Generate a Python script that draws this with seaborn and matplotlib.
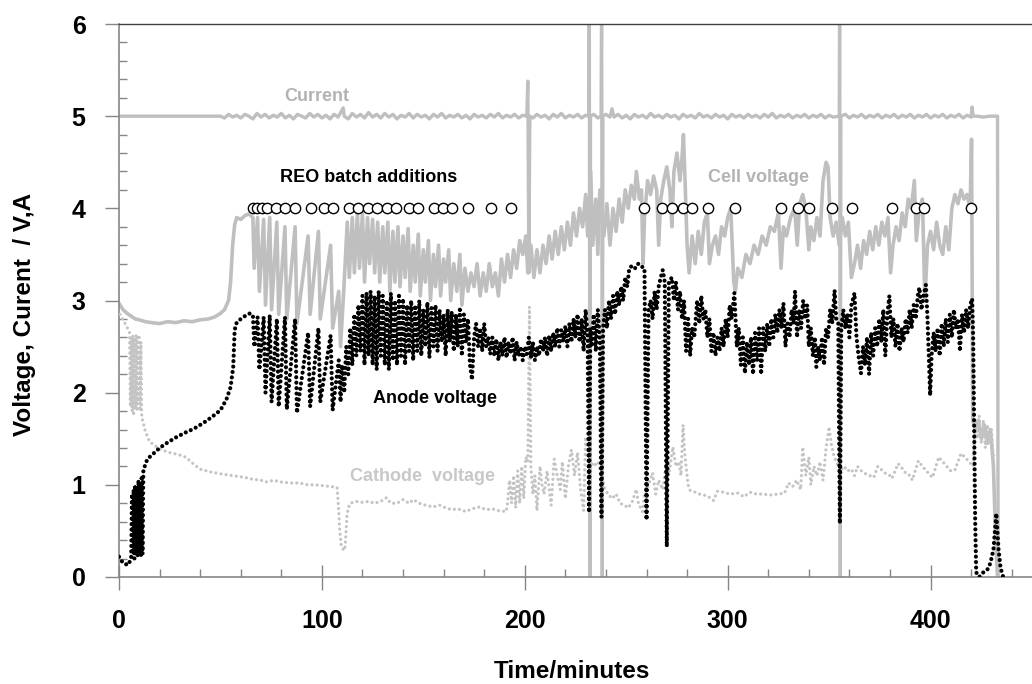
import numpy as np
import pandas as pd
import seaborn as sns
import matplotlib.pyplot as plt
from matplotlib.ticker import MultipleLocator

# (time in minutes, value)
current = [(0, 5.0), (50, 5.0), (52, 4.98), (54, 5.02), (56, 4.99), (58, 5.01), (60, 4.98), (62, 5.02),
           (64, 5.0), (66, 4.97), (68, 5.03), (70, 4.99), (72, 5.02), (74, 4.98), (76, 5.01), (78, 4.99),
           (80, 5.03), (82, 4.98), (84, 5.01), (86, 4.97), (88, 5.02), (90, 5.0), (92, 4.98), (94, 5.03),
           (96, 4.99), (98, 5.02), (100, 4.98), (102, 5.01), (104, 4.97), (106, 5.02), (108, 4.99),
           (110.5, 5.09), (111, 5.0), (113, 4.97), (115, 5.03), (117, 4.99), (119, 5.02), (121, 4.98),
           (123, 5.04), (125, 4.99), (127, 5.02), (129, 4.98), (131, 5.03), (133, 4.99), (135, 5.02),
           (137, 4.97), (139, 5.01), (141, 4.99), (143, 5.03), (145, 4.98), (147, 5.02), (149, 4.99),
           (151, 5.01), (153, 4.97), (155, 5.02), (157, 4.99), (159, 5.03), (161, 4.98), (163, 5.01),
           (165, 4.99), (167, 5.02), (169, 4.98), (171, 5.01), (173, 4.97), (175, 5.02), (177, 4.99),
           (179, 5.01), (181, 4.98), (183, 5.02), (185, 4.99), (187, 5.03), (189, 4.98), (191, 5.01),
           (193, 4.99), (195, 5.02), (197, 4.98), (199, 5.01), (201, 5.0), (201.5, 5.38), (202, 3.3),
           (202.5, 5.0), (204, 4.98), (206, 5.02), (208, 4.99), (210, 5.01), (212, 4.97), (214, 5.02),
           (216, 4.99), (218, 5.03), (220, 4.98), (222, 5.01), (224, 4.99), (226, 5.02), (228, 4.98),
           (230, 5.01), (231.5, 5.0), (231.8, 6.5), (232.1, 0.0), (232.4, 5.0), (234, 5.02), (236, 4.98),
           (237.6, 5.0), (237.9, 6.5), (238.2, 0.0), (238.5, 5.0), (240, 5.02), (242, 4.99), (243, 5.08),
           (244, 4.99), (246, 5.02), (248, 4.98), (250, 5.01), (252, 4.97), (254, 5.02), (256, 4.99),
           (258, 5.01), (260, 4.98), (262, 5.03), (264, 4.99), (266, 5.01), (268, 4.98), (270, 5.02),
           (272, 4.99), (274, 5.01), (276, 4.97), (278, 5.02), (280, 4.99), (282, 5.01), (284, 4.98),
           (286, 5.03), (288, 4.99), (290, 5.01), (292, 4.98), (294, 5.02), (296, 4.99), (298, 5.01),
           (300, 4.97), (302, 5.02), (304, 4.99), (306, 5.01), (308, 4.98), (310, 5.02), (312, 4.99),
           (314, 5.01), (316, 4.98), (318, 5.02), (320, 4.99), (322, 5.03), (324, 4.98), (326, 5.01),
           (328, 4.99), (330, 5.02), (332, 4.98), (334, 5.01), (336, 4.99), (338, 5.02), (340, 4.98),
           (342, 5.01), (344, 4.99), (346, 5.02), (348, 4.98), (350, 5.01), (352, 4.99), (355, 5.0),
           (355.2, 6.5), (355.5, 0.0), (355.8, 5.0), (358, 5.02), (360, 4.98), (362, 5.01), (364, 4.99),
           (366, 5.02), (368, 4.98), (370, 5.01), (372, 4.99), (374, 5.02), (376, 4.98), (378, 5.01),
           (380, 4.99), (382, 5.02), (384, 4.98), (386, 5.01), (388, 4.99), (390, 5.02), (392, 4.98),
           (394, 5.01), (396, 4.99), (398, 5.02), (400, 4.98), (402, 5.01), (404, 4.99), (406, 5.02),
           (408, 4.98), (410, 5.01), (412, 4.99), (414, 5.02), (416, 4.98), (418, 5.01), (420, 4.99),
           (420.5, 5.1), (421, 5.0), (423, 5.0), (426, 4.99), (429, 5.0), (433, 5.0), (433.3, 0.0)]

cell_voltage = [(0, 2.97), (2, 2.9), (4, 2.86), (6, 2.83), (8, 2.8), (10, 2.79), (13, 2.77), (16, 2.76),
                (20, 2.75), (24, 2.77), (28, 2.76), (32, 2.78), (36, 2.77), (40, 2.79), (44, 2.8),
                (47, 2.82), (50, 2.86), (52, 2.9), (54, 3.0), (55, 3.2), (56, 3.6), (57, 3.82), (58, 3.9),
                (60, 3.88), (62, 3.92), (64, 3.94), (66, 3.9), (66.6, 3.35), (68.3, 3.9), (69.2, 3.1),
                (71.3, 3.88), (72.2, 2.95), (74.3, 3.9), (75.2, 2.9), (77.8, 3.85), (78.7, 2.85),
                (81.8, 3.8), (82.7, 2.8), (86.8, 3.8), (87.7, 2.75), (93.2, 3.7), (94.2, 2.85),
                (98.3, 3.75), (99.2, 2.8), (104.3, 3.6), (105.3, 2.7), (108.3, 3.1), (109.2, 2.5),
                (111, 3.2), (112.5, 3.85), (113.5, 3.25), (115, 3.9),
                (116, 3.3), (117.5, 3.95), (118.5, 3.35), (120, 3.95), (121, 3.2), (122.5, 3.9),
                (123.5, 3.4), (125, 3.88), (126, 3.3), (127.5, 3.85), (128.5, 3.2), (130, 3.8), (131, 3.3),
                (132.5, 3.85), (133.5, 3.1), (135, 3.75), (136, 3.2), (137.5, 3.8), (138.5, 3.15),
                (140, 3.7), (141, 3.25), (142.5, 3.78), (143.5, 3.1), (145, 3.6), (146, 3.2), (147.5, 3.72),
                (148.5, 3.05), (150, 3.55), (151, 3.2), (152.5, 3.65), (153.5, 3.0), (155, 3.5),
                (156, 3.15), (157.5, 3.6), (158.5, 3.05), (160, 3.45), (161, 3.2), (162.5, 3.55),
                (163.5, 3.0), (165, 3.4), (166.5, 3.1), (168, 3.5), (169, 2.95), (170.5, 3.35), (172, 3.1),
                (173.5, 3.3), (175, 3.15), (176.5, 3.4), (178, 3.05), (179.5, 3.3), (181, 3.1), (182.5, 3.4),
                (184, 3.15), (185.5, 3.3), (187, 3.05), (188.5, 3.45), (190, 3.2), (191.5, 3.5),
                (193, 3.25), (194.5, 3.55), (196, 3.35), (197.5, 3.65), (199, 3.5), (200.5, 3.7),
                (201.5, 3.3), (203, 3.6), (204.5, 3.25), (206, 3.55), (207.5, 3.3), (209, 3.6),
                (210.5, 3.4), (212, 3.7), (213.5, 3.45), (215, 3.75), (216.5, 3.5), (218, 3.8),
                (219.5, 3.55), (221, 3.85), (222.5, 3.6), (224, 3.95), (225.5, 3.7), (227, 4.0),
                (228.5, 3.8), (230, 4.15), (231, 3.7), (232.5, 4.4), (233.5, 3.6), (235, 4.1), (236, 3.5),
                (237, 4.2), (239, 3.7), (240.5, 4.05), (242, 3.6), (243.5, 4.0), (245, 3.75), (246.5, 4.1),
                (248, 3.85), (249.5, 4.2), (251, 4.0), (252.5, 4.25), (254, 4.1), (255, 4.4), (256.5, 4.1),
                (257.5, 4.2), (258.3, 3.4), (259, 3.9), (260.5, 4.3), (262, 4.15), (263.5, 4.35),
                (265, 4.2), (266, 3.6), (267, 4.1), (268.5, 4.3), (270, 4.45), (271.5, 4.2), (272.5, 3.8),
                (273.5, 4.4), (275, 4.6), (276.5, 4.3), (277.5, 4.55), (278.2, 4.8), (279, 4.3), (280, 3.6),
                (281, 3.3), (282.5, 3.7), (284, 3.4), (285.5, 3.75), (287, 3.5), (288.5, 3.85), (290, 3.95),
                (291, 3.4), (292.5, 3.6), (294, 3.7), (295.5, 3.5), (297, 3.8), (298.5, 3.7), (300, 3.9),
                (301.5, 4.0), (303, 3.2), (303.8, 3.1), (305, 3.35), (307, 3.25), (309, 3.5), (311, 3.4),
                (313, 3.6), (315, 3.5), (317, 3.7), (319, 3.6), (321, 3.8), (323, 3.75), (325, 3.95),
                (326.3, 3.35), (327.5, 3.8), (329, 3.7), (331, 3.9), (333, 4.0), (334.3, 3.6),
                (335.5, 4.05), (337, 4.15), (338.5, 4.0), (340, 3.55), (341, 3.8), (342.5, 3.65),
                (344, 3.9), (345.5, 3.7), (347, 4.3), (348.5, 4.5), (349.5, 4.45), (350.5, 3.9), (352, 3.7),
                (353.5, 3.85), (355, 3.6), (356.5, 3.9), (358, 3.7), (359.5, 3.85), (361, 3.25),
                (362.5, 3.4), (364, 3.6), (365.5, 3.35), (367, 3.65), (368.5, 3.5), (370, 3.75),
                (371.5, 3.55), (373, 3.8), (374.5, 3.6), (376, 3.85), (377.5, 3.7), (379, 3.9),
                (380.3, 3.3), (381.5, 3.6), (383, 3.8), (384.5, 3.65), (386, 3.95), (387.5, 3.8),
                (389, 4.1), (390.5, 4.0), (392, 4.3), (393, 3.65), (394.5, 4.0), (396, 4.1), (397.2, 3.0),
                (398.5, 3.6), (400, 3.75), (401.5, 3.55), (403, 3.85), (404.5, 3.6), (406, 3.5),
                (407.5, 3.8), (409, 3.55), (410.5, 4.0), (412, 4.15), (413.5, 4.05), (415, 4.2),
                (416.5, 4.1), (418, 4.15), (419.5, 4.0), (420.2, 4.75), (420.8, 1.7), (422, 1.6),
                (423.5, 1.7), (425, 1.5), (426.5, 1.65), (428, 1.45), (429.5, 1.6), (431, 1.2), (432, 0.45),
                (433, 0.0)]

anode_voltage = [(0, 0.22), (2, 0.15), (4.5, 0.13), (6, 0.2), (6.4, 0.9), (6.8, 0.25), (7.2, 0.95),
                 (7.6, 0.2), (8, 1.0), (8.4, 0.25), (8.8, 0.95), (9.2, 0.22), (9.6, 1.05), (10, 0.25),
                 (10.4, 1.0), (10.8, 0.22), (11.2, 1.1), (11.6, 0.25), (12, 1.16), (14, 1.28), (17, 1.34),
                 (20, 1.4), (24, 1.46), (28.5, 1.52), (33, 1.57), (37, 1.61), (41.5, 1.67), (46, 1.74),
                 (50, 1.81), (53, 1.93), (55, 2.06), (56.3, 2.28), (57, 2.68), (58, 2.76), (59.5, 2.79),
                 (62, 2.83), (64.5, 2.86), (66, 2.84), (66.7, 2.5), (68.3, 2.82), (69.2, 2.25),
                 (71.3, 2.82), (72.2, 2.0), (74.3, 2.84), (75.2, 1.9), (77.8, 2.8), (78.7, 1.85),
                 (81.8, 2.82), (82.7, 1.82), (86.8, 2.8), (87.7, 1.78), (93.2, 2.65), (94.2, 1.85),
                 (98.3, 2.7), (99.2, 1.9), (104.3, 2.62), (105.3, 1.81), (108.3, 2.35), (109.2, 1.9),
                 (110, 2.3), (111, 2.0), (112, 2.5),
                 (113, 2.2), (114, 2.7), (115, 2.3), (116, 2.85), (117, 2.4), (118, 2.95), (119, 2.45),
                 (120, 3.05), (121, 2.3), (122, 3.08), (123, 2.4), (124, 3.1), (125, 2.3), (126, 3.05),
                 (127, 2.25), (128, 3.1), (129, 2.4), (130, 3.05), (131, 2.3), (132, 3.0), (133, 2.25),
                 (134, 3.08), (135, 2.35), (136, 3.0), (137, 2.3), (138, 3.05), (139, 2.4), (140, 3.02),
                 (141, 2.3), (142, 2.95), (143, 2.45), (144, 3.0), (145, 2.35), (146, 2.95), (147, 2.45),
                 (148, 3.0), (149, 2.4), (150, 2.9), (151, 2.5), (152, 2.98), (153, 2.38), (154, 2.92),
                 (155, 2.5), (156, 2.95), (157, 2.45), (158, 2.9), (159, 2.55), (160, 2.85), (161, 2.4),
                 (162, 2.9), (163, 2.55), (164, 2.88), (165, 2.45), (166, 2.85), (167, 2.5), (168, 2.9),
                 (169, 2.4), (170, 2.85), (171, 2.55), (172, 2.8), (173, 2.3), (174, 2.14), (175, 2.6),
                 (176, 2.75), (177, 2.5), (178, 2.7), (179, 2.45), (180, 2.75), (181, 2.5), (182, 2.6),
                 (183, 2.42), (184, 2.6), (185, 2.4), (186, 2.58), (187, 2.35), (188, 2.55), (189, 2.4),
                 (190, 2.6), (191, 2.38), (192, 2.55), (193, 2.42), (194, 2.6), (195, 2.35), (196, 2.55),
                 (197, 2.4), (198, 2.5), (199, 2.35), (200, 2.5), (201, 2.42), (202, 2.6), (203, 2.38),
                 (204, 2.55), (205, 2.35), (206, 2.5), (207, 2.4), (208, 2.58), (209, 2.45), (210, 2.6),
                 (211, 2.4), (212, 2.62), (213, 2.45), (214, 2.65), (215, 2.5), (216, 2.7), (217, 2.5),
                 (218, 2.68), (219, 2.55), (220, 2.72), (221, 2.5), (222, 2.75), (223, 2.55), (224, 2.8),
                 (225, 2.6), (226, 2.85), (227, 2.55), (228, 2.8), (229, 2.45), (230, 2.9), (231, 2.6),
                 (231.7, 0.7), (232.3, 2.7), (233, 2.5), (234, 2.85), (235, 2.45), (236, 2.9), (237, 2.55),
                 (237.8, 0.65), (238.6, 2.7), (239.5, 2.9), (240.5, 2.7), (241.5, 3.0), (242.5, 2.8),
                 (243.5, 3.05), (244.5, 2.85), (245.5, 3.1), (246.5, 2.95), (247.5, 3.15), (248.5, 3.0),
                 (249.5, 3.25), (250.5, 3.15), (251.5, 3.35), (253, 3.38), (254.5, 3.35), (256, 3.4),
                 (257.5, 3.37), (259, 3.35), (260, 0.62), (261, 2.9), (262, 3.0), (263, 2.8), (264, 3.1),
                 (265, 2.9), (266, 3.15), (267, 3.25), (268, 3.33), (269, 3.2), (270, 0.33), (271, 3.2),
                 (272.5, 3.25), (273.5, 3.0), (274.5, 3.2), (275.5, 2.9), (276.5, 3.1), (277.5, 2.8),
                 (278.5, 3.0), (279.5, 2.45), (280.5, 2.8), (281.5, 2.4), (282.5, 2.7), (283.5, 2.6),
                 (285, 3.0), (286, 2.75), (287, 3.05), (288, 2.8), (289, 2.9), (290, 2.6), (291, 2.8),
                 (292, 2.45), (293, 2.65), (294, 2.4), (295, 2.6), (296, 2.45), (297, 2.7), (298, 2.5),
                 (299, 2.8), (300, 2.6), (301, 2.95), (302, 2.8), (303.3, 3.08), (304.5, 2.5), (305.5, 2.7),
                 (306.5, 2.3), (307.5, 2.6), (308.5, 2.21), (309.5, 2.55), (310.5, 2.3), (311.5, 2.6),
                 (312.5, 2.2), (313.5, 2.65), (314.5, 2.35), (315.5, 2.7), (316.5, 2.2), (317.5, 2.7),
                 (318.5, 2.45), (319.5, 2.75), (320.5, 2.5), (321.5, 2.8), (322.5, 2.6), (323.5, 2.85),
                 (324.5, 2.65), (325.5, 2.9), (326.5, 2.7), (327.5, 2.97), (328.5, 2.5), (329.5, 2.75),
                 (330.5, 2.6), (331.5, 2.9), (332.5, 2.75), (333.2, 3.1), (334.2, 2.6), (335.2, 2.9),
                 (336.2, 2.7), (337.2, 3.0), (338.2, 2.8), (339.2, 2.95), (340, 2.5), (341, 2.7),
                 (342, 2.4), (343, 2.6), (343.7, 2.28), (344.5, 2.5), (345.5, 2.35), (346.5, 2.6),
                 (347.5, 2.3), (348.5, 2.7), (349.5, 2.6), (350.5, 2.9), (351.5, 2.75), (352.7, 3.11),
                 (353.5, 2.8), (354.5, 2.75), (355.3, 0.58), (356, 2.7), (357, 2.9), (358, 2.7),
                 (359, 2.85), (360, 2.6), (361, 2.95), (362.5, 3.08), (363.5, 2.6), (364.5, 2.4),
                 (365.7, 2.21), (366.7, 2.5), (367.7, 2.3), (368.7, 2.6), (369.7, 2.2), (370.7, 2.65),
                 (371.7, 2.4), (372.7, 2.7), (373.7, 2.5), (374.7, 2.8), (375.7, 2.55), (376.7, 2.9),
                 (377.7, 2.4), (378.7, 2.85), (379.7, 3.05), (380.7, 2.6), (381.7, 2.8), (382.7, 2.5),
                 (383.7, 2.75), (384.7, 2.45), (385.7, 2.7), (386.7, 2.55), (387.7, 2.8), (388.7, 2.65),
                 (389.7, 2.9), (390.7, 2.7), (391.7, 2.95), (392.7, 2.8), (393.7, 3.05), (394.5, 3.14),
                 (395.5, 2.9), (396.5, 3.05), (397.7, 3.17), (398.5, 2.8), (399.3, 2.3), (399.8, 1.97),
                 (400.5, 2.4), (401.5, 2.65), (402.5, 2.45), (403.5, 2.7), (404.5, 2.4), (405.5, 2.75),
                 (406.5, 2.5), (407.5, 2.8), (408.5, 2.55), (409.5, 2.85), (410.5, 2.6), (411.5, 2.9),
                 (412.5, 2.7), (413.5, 2.8), (414.5, 2.45), (415.5, 2.85), (416.5, 2.65), (417.5, 2.9),
                 (418.5, 2.7), (419.5, 2.95), (420.5, 3.02), (421, 2.6), (421.5, 1.6), (422, 0.6),
                 (422.5, 0.05), (424, 0.0), (426, 0.05), (428, 0.08), (429.5, 0.15), (431, 0.3),
                 (432.4, 0.69), (433.5, 0.3), (434.5, 0.1), (435.8, 0.0)]

cathode_voltage = [(0.5, 2.85), (2, 2.79), (4, 2.71), (5.2, 2.65), (5.6, 1.85), (6, 2.6), (6.4, 1.8),
                   (6.8, 2.62), (7.2, 1.75), (7.6, 2.6), (8, 1.85), (8.4, 2.62), (8.8, 1.8), (9.2, 2.6),
                   (9.6, 1.9), (10, 2.6), (10.4, 1.8), (10.8, 2.55), (11.2, 1.74), (12, 1.67), (13, 1.58),
                   (15, 1.47), (18, 1.42), (21, 1.38), (25, 1.35), (29, 1.33), (33, 1.3), (37, 1.22),
                   (40, 1.17), (45, 1.14), (50, 1.12), (56, 1.1), (62, 1.08), (66, 1.06), (70, 1.05),
                   (73, 1.03), (76, 1.05), (80, 1.03), (85, 1.02), (89, 1.02), (93, 1.0), (97, 1.0),
                   (101, 0.99), (105, 0.98), (107.5, 0.97), (108.2, 0.75), (108.8, 0.5), (109.5, 0.35),
                   (110.5, 0.3), (111.3, 0.29), (111.8, 0.45), (112.3, 0.65), (113, 0.75), (114, 0.8),
                   (117, 0.82), (120, 0.81), (123, 0.82), (126, 0.8), (129, 0.82), (131.8, 0.86), (134, 0.8),
                   (137, 0.8), (140, 0.84), (143, 0.8), (145, 0.84), (148, 0.8), (151, 0.78), (154.8, 0.76),
                   (158, 0.78), (161, 0.75), (164, 0.73), (167, 0.74), (171, 0.71), (174, 0.74),
                   (177.7, 0.76), (181, 0.73), (184, 0.74), (187, 0.72), (190.8, 0.71), (191.5, 0.8),
                   (192.5, 1.05), (193.5, 0.8), (194.5, 1.1), (195.5, 0.75), (196.5, 1.15), (197.5, 0.8),
                   (198.5, 1.2), (199.5, 0.85), (200.5, 1.3), (201.5, 1.25), (202.3, 2.93), (203, 1.2),
                   (204, 0.9), (205, 1.1), (206, 0.72), (207.5, 1.2), (208.5, 1.0), (209.5, 0.9),
                   (211, 1.15), (213, 0.78), (214.5, 1.28), (216, 1.1), (217.5, 0.95), (218.5, 1.25),
                   (220, 0.85), (221.5, 1.2), (223, 1.38), (224.5, 1.1), (226, 1.35), (227.5, 0.95),
                   (229, 0.72), (230, 1.52), (231, 1.3), (232.5, 1.25), (234, 1.2), (236, 1.25), (238, 1.1),
                   (239.5, 0.95), (241, 0.9), (243, 0.85), (245, 0.9), (247, 0.8), (249, 0.78), (251, 0.75),
                   (253, 0.82), (255, 0.95), (256, 0.8), (258, 0.71), (259, 0.9), (261, 1.0), (263, 1.13),
                   (264.5, 0.9), (266, 1.05), (268, 0.95), (269.5, 1.2), (271, 1.1), (273, 1.41),
                   (274.5, 1.2), (276, 1.25), (277, 1.1), (278, 1.65), (279, 1.3), (280.5, 1.0),
                   (281.5, 0.94), (284, 0.92), (286, 0.9), (288, 0.89), (290, 0.88), (293, 0.83),
                   (295, 0.93), (298, 0.92), (301, 0.9), (305, 0.91), (308, 0.87), (311, 0.92), (314, 0.9),
                   (317, 0.9), (321, 0.89), (325, 0.9), (328, 0.91), (330, 1.02), (332, 0.98), (334, 1.05),
                   (336, 0.95), (337, 1.41), (338.5, 1.1), (340, 1.3), (341, 1.0), (342.5, 1.2), (344, 1.1),
                   (345.5, 1.25), (347, 1.05), (348.5, 1.4), (350, 1.63), (351, 1.45), (352.5, 1.3),
                   (354, 1.23), (355.5, 1.15), (357.5, 1.2), (359, 1.15), (361, 1.17), (362.5, 1.1),
                   (364, 1.2), (366, 1.15), (368, 1.12), (370, 1.1), (372, 1.08), (374, 1.2), (376, 1.16),
                   (378, 1.12), (380, 1.1), (381, 1.07), (384, 1.23), (386, 1.18), (388, 1.12), (390, 1.1),
                   (391, 1.05), (394, 1.26), (396, 1.2), (398, 1.15), (400, 1.1), (401, 1.08), (404, 1.3),
                   (406, 1.25), (408, 1.2), (410, 1.15), (412, 1.16), (415, 1.34), (417, 1.3), (419, 1.25),
                   (421, 1.2), (422, 1.7), (423, 1.5), (424, 1.75), (425, 1.45), (426, 1.7), (427, 1.4),
                   (428, 1.65), (429, 1.45), (430, 1.6), (431, 1.3)]

# times of the REO batch additions (plotted at 4 V)
reo_additions = [65.9, 68.1, 70.4, 72.8, 77.3, 81.9, 86.6, 94.4, 101.0, 105.6, 113.2, 117.7, 122.7,
                 127.2, 131.9, 136.5, 143.0, 147.6, 155.2, 159.7, 164.3, 172.2, 183.4, 193.2, 258.6,
                 267.8, 272.7, 277.8, 282.6, 290.5, 303.6, 326.4, 334.5, 340.2, 351.4, 361.1, 380.8,
                 392.7, 396.7, 419.7]
reo_level = 4.0


def to_frame(pairs):
    return pd.DataFrame(pairs, columns=["time", "value"])


sns.set_style("white")
plt.rcParams['font.family'] = ['Liberation Sans', 'DejaVu Sans']

grey = "#bfbfbf"

fig = plt.figure(figsize=(10.32, 6.84), dpi=100)
ax = fig.add_axes([119 / 1032, 107 / 684, 1 - 119 / 1032, 553 / 684])

sns.lineplot(data=to_frame(current), x="time", y="value", ax=ax, sort=False, estimator=None,
             color=grey, lw=2.4, zorder=2)
sns.lineplot(data=to_frame(cell_voltage), x="time", y="value", ax=ax, sort=False, estimator=None,
             color=grey, lw=2.6, zorder=2)
sns.lineplot(data=to_frame(cathode_voltage), x="time", y="value", ax=ax, sort=False, estimator=None,
             color="#c4c4c4", lw=2.3, linestyle=(0, (0.01, 1.6)), dash_capstyle="round", zorder=3)
sns.lineplot(data=to_frame(anode_voltage), x="time", y="value", ax=ax, sort=False, estimator=None,
             color="black", lw=3.0, linestyle=(0, (0.01, 1.3)), dash_capstyle="round", zorder=4)
sns.scatterplot(x=reo_additions, y=[reo_level] * len(reo_additions), ax=ax, marker="o", s=55,
                facecolor="white", edgecolor="black", linewidth=1.0, zorder=5)

ax.set_xlim(0, 450)
ax.set_ylim(0, 6)
ax.xaxis.set_major_locator(MultipleLocator(100))
ax.xaxis.set_minor_locator(MultipleLocator(20))
ax.yaxis.set_major_locator(MultipleLocator(1))
ax.yaxis.set_minor_locator(MultipleLocator(0.2))
ax.tick_params(axis="x", which="major", direction="inout", length=18, width=1, color="#868686",
               labelsize=18, pad=14, labelcolor="black")
ax.tick_params(axis="y", which="major", direction="out", length=10, width=1, color="#868686",
               labelsize=18, pad=14, labelcolor="black")
ax.tick_params(which="minor", direction="in", length=6, width=1, color="#868686")
ax.tick_params(which="both", bottom=True, left=True)
for lab in ax.get_xticklabels() + ax.get_yticklabels():
    lab.set_fontweight("bold")

for side in ["left", "bottom"]:
    ax.spines[side].set_color("#868686")
    ax.spines[side].set_linewidth(1.2)
ax.spines["top"].set_color("#404040")
ax.spines["top"].set_linewidth(1.0)
ax.spines["right"].set_visible(False)

ax.set_xlabel("Time/minutes", fontsize=17.5, fontweight="bold", va="center", color="black")
ax.xaxis.set_label_coords((572 - 119) / 913, (577 - 671) / 553)
ax.set_ylabel("Voltage, Curent  / V,A", fontsize=17.5, fontweight="bold", va="center", color="black")
ax.yaxis.set_label_coords((25 - 119) / 913, (577 - 314) / 553)

ax.text(97.5, 5.21, "Current", color="#b3b3b3", fontsize=13, fontweight="bold", ha="center", va="center")
ax.text(123, 4.33, "REO batch additions", color="black", fontsize=13, fontweight="bold", ha="center", va="center")
ax.text(315, 4.33, "Cell voltage", color="#b3b3b3", fontsize=13, fontweight="bold", ha="center", va="center")
ax.text(155.6, 1.94, "Anode voltage", color="black", fontsize=13, fontweight="bold", ha="center", va="center")
ax.text(149.5, 1.09, "Cathode  voltage", color="#c8c8c8", fontsize=13, fontweight="bold", ha="center", va="center")

fig.savefig("out.png", dpi=100)
